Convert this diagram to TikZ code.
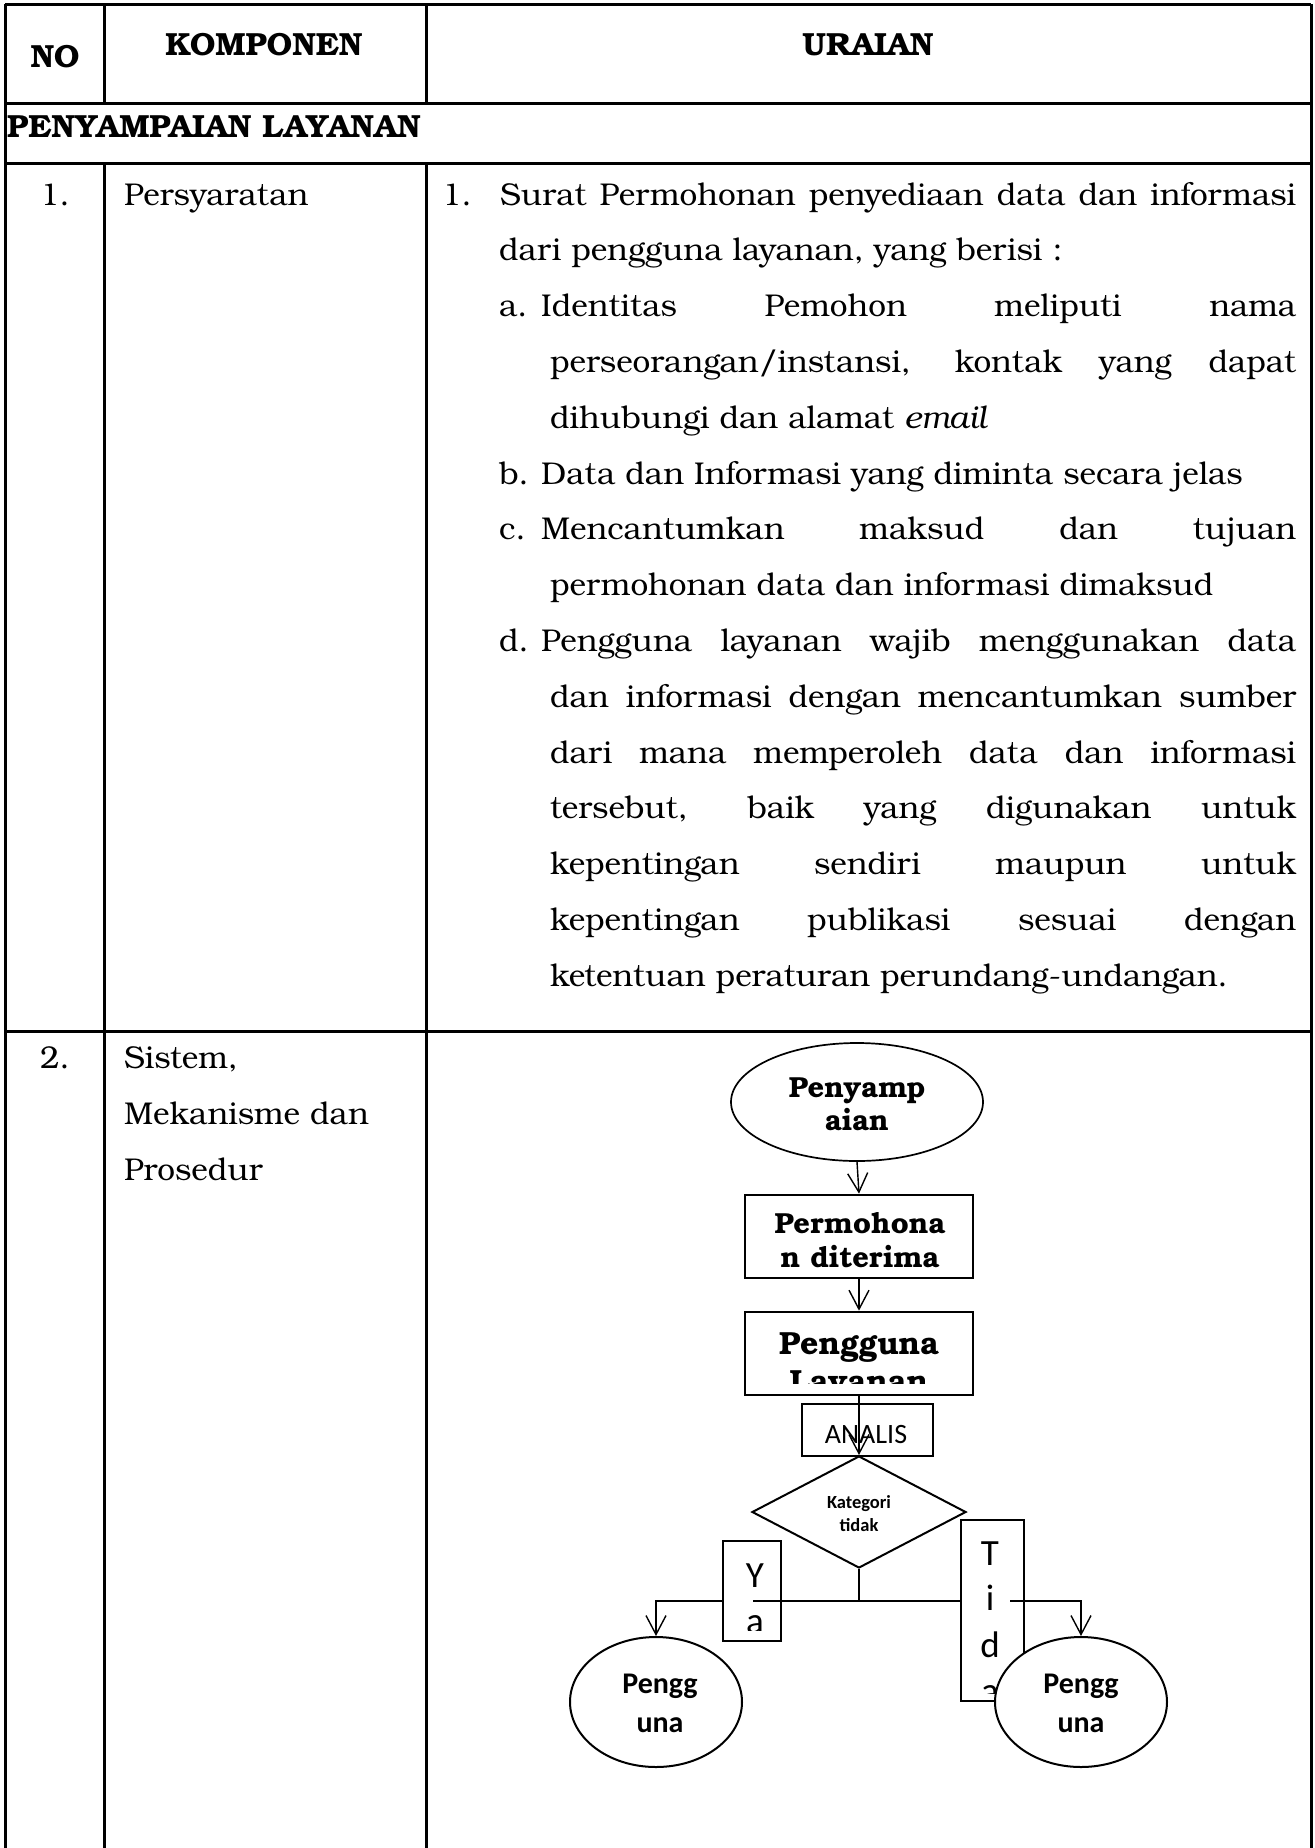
\documentclass[tikz,border=0pt]{standalone}
\usepackage{fontspec}
\usetikzlibrary{shapes.geometric,arrows.meta}
\newfontfamily\calib{Carlito}
\newfontfamily\bkm{texgyrebonum}[Extension=.otf,UprightFont=*-regular,BoldFont=*-bold,ItalicFont=*-italic,BoldItalicFont=*-bolditalic]
\newcommand\jus[2]{\makebox[#1][s]{#2}}

\begin{document}
\begin{tikzpicture}[x=1pt,y=-1pt,
  grid/.style={line width=3pt},
  txt/.style={anchor=base west, inner sep=0pt, font=\bkm\fontsize{31.5}{36}\selectfont},
  hdr/.style={anchor=base, inner sep=0pt, font=\bkm\bfseries\fontsize{32}{38}\selectfont},
  hdrw/.style={anchor=base west, inner sep=0pt, font=\bkm\bfseries\fontsize{32}{38}\selectfont},
  ftxt/.style={anchor=base, inner sep=0pt, font=\bkm\bfseries\fontsize{29}{34}\selectfont},
  ctxt/.style={anchor=base, inner sep=0pt, font=\calib\fontsize{28}{33}\selectfont},
  cbold/.style={anchor=base, inner sep=0pt, font=\calib\bfseries\fontsize{30}{36}\selectfont},
  shp/.style={draw, fill=white, inner sep=0pt},
  arr/.style={line width=1.4pt, -{Straight Barb[length=19pt,width=20pt]}},
  conn/.style={line width=1.4pt}
]
\useasboundingbox (0,0) rectangle (1315,1848);
\fill[white] (0,0) rectangle (1315,1848);

% ---- table rules ----
\draw[grid] (5,4) -- (1311,4);
\draw[grid] (5,103) -- (1311,103);
\draw[grid] (5,163) -- (1311,163);
\draw[grid] (5,1031) -- (1311,1031);
\draw[grid] (5,4) -- (5,1848);
\draw[grid] (1311,4) -- (1311,1848);
\draw[grid] (104,4) -- (104,103);
\draw[grid] (426,4) -- (426,103);
\draw[grid] (104,163) -- (104,1848);
\draw[grid] (426,163) -- (426,1848);

% ---- header ----
\node[hdr] (hNo) at (55,67) {NO};
\node[hdr] (hKomp) at (264,55) {KOMPONEN};
\node[hdr] (hUrai) at (868,55) {URAIAN};
\node[hdrw] (sec) at (7,137) {PENYAMPAIAN LAYANAN};

% ---- row 1 ----
\node[txt] (n1) at (40,205) {1.};
\node[txt] (k1) at (124,205) {Persyaratan};
\node[txt] (u1n) at (442,205) {1.};
\node[txt] (u1a) at (500,205) {\jus{796pt}{Surat Permohonan penyediaan data dan informasi}};
\node[txt] (u1b) at (499,260.8) {dari pengguna layanan, yang berisi :};
\node[txt] (ia) at (499,316.6) {a.};
\node[txt] (u2a) at (541,316.6) {\jus{755pt}{Identitas Pemohon meliputi nama}};
\node[txt] (u2b) at (550,372.4) {\jus{746pt}{perseorangan/instansi, kontak yang dapat}};
\node[txt] (u2c) at (550,428.2) {dihubungi dan alamat \textit{email}};
\node[txt] (ib) at (499,484) {b.};
\node[txt] (u3a) at (541,484) {Data dan Informasi yang diminta secara jelas};
\node[txt] (ic) at (499,539.8) {c.};
\node[txt] (u4a) at (541,539.8) {\jus{755pt}{Mencantumkan maksud dan tujuan}};
\node[txt] (u4b) at (550,595.6) {permohonan data dan informasi dimaksud};
\node[txt] (id) at (499,651.4) {d.};
\node[txt] (u5a) at (541,651.4) {\jus{755pt}{Pengguna layanan wajib menggunakan data}};
\node[txt] (u5b) at (550,707.2) {\jus{746pt}{dan informasi dengan mencantumkan sumber}};
\node[txt] (u5c) at (550,763) {\jus{746pt}{dari mana memperoleh data dan informasi}};
\node[txt] (u5d) at (550,818.8) {\jus{746pt}{tersebut, baik yang digunakan untuk}};
\node[txt] (u5e) at (550,874.6) {\jus{746pt}{kepentingan sendiri maupun untuk}};
\node[txt] (u5f) at (550,930.4) {\jus{746pt}{kepentingan publikasi sesuai dengan}};
\node[txt] (u5g) at (550,986.2) {ketentuan peraturan perundang-undangan.};

% ---- row 2 ----
\node[txt] (n2) at (40,1068) {2.};
\node[txt] (k2a) at (124,1068) {Sistem,};
\node[txt] (k2b) at (124,1124) {Mekanisme dan};
\node[txt] (k2c) at (124,1180) {Prosedur};

% ---- flowchart ----
\node[shp, ellipse, minimum width=252pt, minimum height=118pt, line width=1.7pt] (start) at (857,1102) {};
\node[ftxt] (startA) at (857,1097) {Penyamp};
\node[ftxt] (startB) at (857,1130) {aian};

\node[shp, rectangle, minimum width=228pt, minimum height=83pt, line width=2.7pt] (recv) at (859,1236.5) {};
\node[ftxt] (recvA) at (860,1233) {Permohona};
\node[ftxt] (recvB) at (860,1267) {n diterima};

\node[shp, rectangle, minimum width=228pt, minimum height=83pt, line width=2.7pt] (user) at (859,1353.5) {};
\begin{scope}
  \clip (747,1314) rectangle (971,1383);
  \node[ftxt, font=\bkm\bfseries\fontsize{32}{38}\selectfont] (userA) at (859,1354) {Pengguna};
  \node[ftxt, font=\bkm\bfseries\fontsize{32}{38}\selectfont] (userB) at (859,1392) {Layanan};
\end{scope}

\node[shp, rectangle, minimum width=131pt, minimum height=52pt, line width=1.3pt] (anl) at (867.5,1430) {};
\node[ctxt] (anlT) at (866,1443) {ANALIS};

\node[shp, diamond, minimum width=214pt, minimum height=112pt, line width=2pt] (dec) at (859,1512) {};
\node[cbold, font=\calib\bfseries\fontsize{18.5}{23}\selectfont] (decA) at (859,1508) {Kategori};
\node[cbold, font=\calib\bfseries\fontsize{18.5}{23}\selectfont] (decB) at (859,1531) {tidak};

\draw[arr] (start.south) -- (recv.north);
\draw[arr] (recv.south) -- (user.north);
\draw[arr] (user.south) -- (dec.north);

% branch labels
\node[draw, rectangle, line width=1.5pt, minimum width=58pt, minimum height=100pt, inner sep=0pt] (ya) at (752,1591) {};
\begin{scope}
  \clip (724,1542) rectangle (780,1630);
  \node[ctxt, font=\calib\fontsize{37}{45}\selectfont] (yaA) at (755,1587) {Y};
  \node[ctxt, font=\calib\fontsize{37}{45}\selectfont] (yaB) at (755,1633) {a};
\end{scope}
\node[draw, rectangle, line width=1.5pt, minimum width=63pt, minimum height=181pt, inner sep=0pt] (td) at (992.5,1610.5) {};
\begin{scope}
  \clip (962,1521) rectangle (1023,1693);
  \node[ctxt, font=\calib\fontsize{37}{45}\selectfont] (tdA) at (990,1565) {T};
  \node[ctxt, font=\calib\fontsize{37}{45}\selectfont] (tdB) at (990,1610) {i};
  \node[ctxt, font=\calib\fontsize{37}{45}\selectfont] (tdC) at (990,1657) {d};
  \node[ctxt, font=\calib\fontsize{37}{45}\selectfont] (tdD) at (990,1703) {a};
\end{scope}

% outcome ellipses
\node[shp, ellipse, minimum width=172pt, minimum height=130pt, line width=2pt] (g1) at (656,1702) {};
\node[cbold] (g1A) at (660,1693) {Pengg};
\node[cbold] (g1B) at (660,1732) {una};
\node[shp, ellipse, minimum width=172pt, minimum height=130pt, line width=2pt] (g2) at (1081,1702) {};
\node[cbold] (g2A) at (1081,1693) {Pengg};
\node[cbold] (g2B) at (1081,1732) {una};

% branch connectors
\coordinate (split) at (859,1601);
\draw[conn] (dec.south) -- (split);
\draw[conn] (split) -- (ya.east |- split);
\draw[conn] (ya.east |- split) -- ++(-29,0);
\draw[arr] (ya.west |- split) -| (g1.north);
\draw[conn] (split) -- (td.west |- split);
\draw[conn] (td.east |- split) -- ++(-15,0);
\draw[arr] (td.east |- split) -| (g2.north);
\end{tikzpicture}
\end{document}
